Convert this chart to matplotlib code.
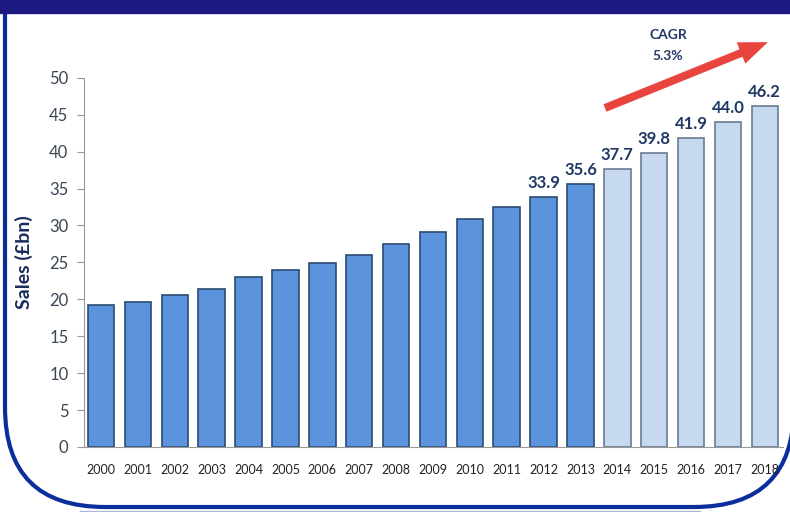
import matplotlib.pyplot as plt
from matplotlib.patches import FancyBboxPatch, FancyArrow, Rectangle

years = [str(y) for y in range(2000, 2019)]
sales = [19.2, 19.6, 20.6, 21.4, 23.0, 24.0, 24.9, 26.0, 27.5, 29.1,
         30.9, 32.5, 33.9, 35.6, 37.7, 39.8, 41.9, 44.0, 46.2]
forecast_from = "2014"
labelled_years = ["2012", "2013", "2014", "2015", "2016", "2017", "2018"]

plt.rcParams["font.family"] = ["Lato", "DejaVu Sans"]

fig = plt.figure(figsize=(7.9, 5.12), dpi=100)

# background frame drawn in pixel coordinates
bg = fig.add_axes([0, 0, 1, 1])
bg.set_xlim(0, 790)
bg.set_ylim(512, 0)
bg.axis("off")
bg.add_patch(Rectangle((0, 0), 790, 13, color="#1c1a82", zorder=3))
bg.add_patch(FancyBboxPatch((5, -150), 789, 657,
                            boxstyle="round,pad=0,rounding_size=100",
                            facecolor="white", edgecolor="#0a2e9c", lw=3, zorder=1))
bg.plot([80, 700], [510.5, 510.5], color="#aab8d8", lw=1, zorder=0)

# CAGR arrow and text
bg.add_patch(FancyArrow(605, 108, 136, -55, width=8, head_width=23, head_length=29,
                        length_includes_head=False, color="#e8453f", lw=0, zorder=4))
bg.text(668, 35, "CAGR", ha="center", va="center", fontsize=10,
        fontweight="bold", color="#1f3864")
bg.text(668, 56, "5.3%", ha="center", va="center", fontsize=10,
        fontweight="bold", color="#1f3864")

ax = fig.add_axes([0.106, 0.127, 0.885, 0.721])
ax.patch.set_alpha(0)

x = list(range(len(years)))
split = years.index(forecast_from)
colors = ["#5b94dc" if i < split else "#c6d9f1" for i in x]
edges = ["#2b4a72" if i < split else "#6b7b8f" for i in x]
ax.bar(x, sales, width=0.72, color=colors, edgecolor=edges, linewidth=1.2, zorder=2)

for i, (yr, v) in enumerate(zip(years, sales)):
    if yr in labelled_years:
        ax.text(i, v + 0.8, f"{v:.1f}", ha="center", va="bottom", fontsize=12,
                fontweight="bold", color="#1f3864")

ax.set_xlim(-0.47, 18.49)
ax.set_ylim(0, 50)
ax.set_yticks(range(0, 51, 5))
ax.set_xticks(x)
ax.set_xticklabels(years)
ax.tick_params(axis="x", length=0, pad=12, labelsize=9, labelcolor="#222222")
ax.tick_params(axis="y", length=5, color="#999999", labelsize=12,
               labelcolor="#3a4654", pad=6)
for s in ["top", "right"]:
    ax.spines[s].set_visible(False)
for s in ["left", "bottom"]:
    ax.spines[s].set_color("#999999")
ax.set_ylabel("Sales (£bn)", fontsize=14, fontweight="bold", color="#1a2b5c",
              labelpad=12)

fig.savefig("out.png", dpi=100)
